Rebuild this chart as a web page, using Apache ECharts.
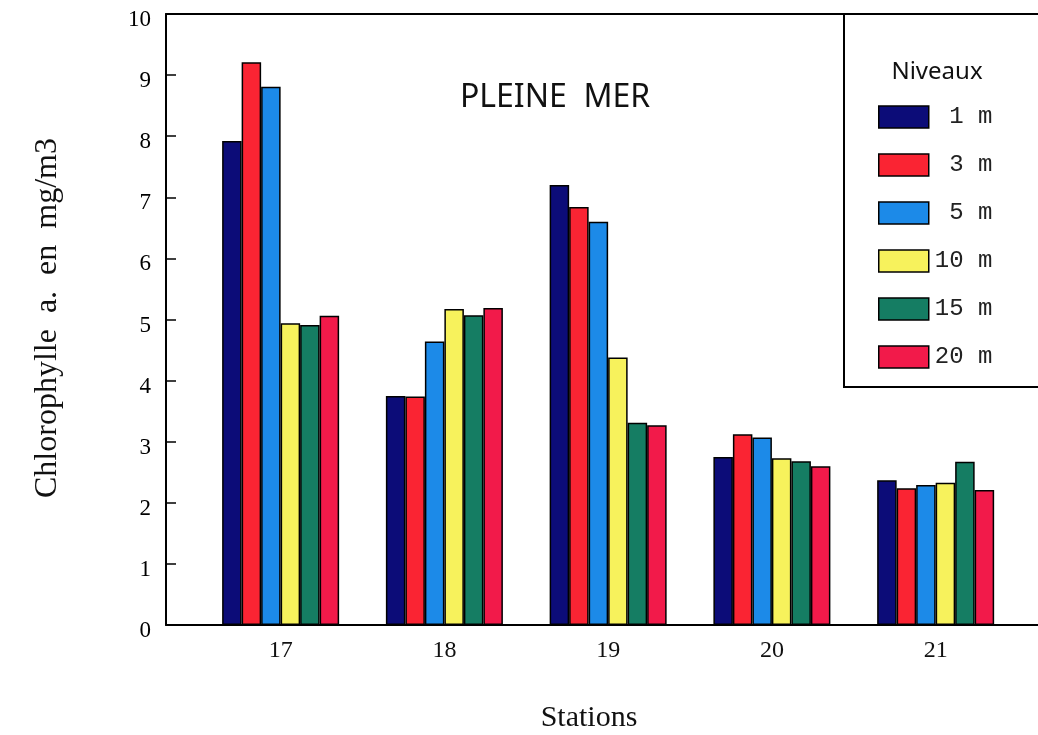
<!DOCTYPE html>
<html>
<head>
<meta charset="utf-8">
<script src="https://cdn.jsdelivr.net/npm/echarts@6/dist/echarts.min.js"></script>
<style>html,body{margin:0;padding:0;background:#fff;}#c{width:1038px;height:735px;}</style>
</head>
<body>
<div id="c"></div>
<script>
const stations = [17, 18, 19, 20, 21];
const levels = [' 1 m', ' 3 m', ' 5 m', '10 m', '15 m', '20 m'];
const colors = ['#0c0c78', '#fa2433', '#1c8ae8', '#f7f25c', '#157d63', '#f21a4a'];
const v1m  = [7.92, 3.75, 7.20, 2.75, 2.37];
const v3m  = [9.21, 3.74, 6.84, 3.12, 2.24];
const v5m  = [8.81, 4.64, 6.60, 3.07, 2.29];
const v10m = [4.94, 5.17, 4.38, 2.73, 2.33];
const v15m = [4.91, 5.07, 3.31, 2.68, 2.67];
const v20m = [5.06, 5.19, 3.27, 2.60, 2.21];
const yTicks = [0, 1, 2, 3, 4, 5, 6, 7, 8, 9, 10];
const allValues = [v1m, v3m, v5m, v10m, v15m, v20m];

const chart = echarts.init(document.getElementById('c'), null, {renderer: 'canvas'});
const series = levels.map((name, i) => ({
  name: name,
  type: 'bar',
  barWidth: 19.5,
  barGap: '0%',
  data: stations.map((s, k) => [s, allValues[i][k]]),
  itemStyle: {color: colors[i], borderColor: '#000', borderWidth: 1.5},
  emphasis: {disabled: true}
}));

chart.setOption({
  animation: false,
  backgroundColor: '#fff',
  grid: {left: 166, top: 14, right: 0, bottom: 110},
  xAxis: [{
    type: 'value', min: 16.3, max: 21.625,
    axisLine: {show: true, lineStyle: {color: '#000', width: 2}},
    axisTick: {show: false},
    splitLine: {show: false},
    axisLabel: {customValues: stations, margin: 14, color: '#111', fontFamily: 'Liberation Serif', fontSize: 24}
  }, {
    type: 'value', position: 'top', min: 16.3, max: 21.625,
    axisLine: {show: true, lineStyle: {color: '#000', width: 2}},
    axisTick: {show: false}, axisLabel: {show: false}, splitLine: {show: false}
  }],
  yAxis: {
    type: 'value', min: 0, max: 10, interval: 1,
    axisLine: {show: true, lineStyle: {color: '#000', width: 2}},
    axisTick: {show: true, inside: true, length: 10, lineStyle: {color: '#000', width: 1.5}},
    splitLine: {show: false},
    axisLabel: {margin: 15, color: '#000', fontFamily: 'Liberation Serif', fontSize: 23,
      verticalAlign: 'top', lineHeight: 12, customValues: yTicks}
  },
  legend: {
    orient: 'vertical', left: 873, top: 100, itemWidth: 50, itemHeight: 22, itemGap: 24,
    icon: 'rect', selectedMode: false,
    itemStyle: {borderColor: '#000', borderWidth: 1.5},
    textStyle: {fontFamily: 'Liberation Mono', fontSize: 24, color: '#222', padding: [0, 0, 0, 1]},
    data: levels
  },
  graphic: [
    {type: 'rect', z: 1, shape: {x: 844, y: 14, width: 260, height: 373}, style: {fill: '#fff', stroke: '#000', lineWidth: 2}},
    {type: 'text', z: 5, x: 937, y: 72, style: {text: 'Niveaux', font: '24px "Noto Sans"', fill: '#111', align: 'center', verticalAlign: 'middle'}},
    {type: 'text', z: 5, x: 555, y: 98, style: {text: 'PLEINE  MER', font: '32px "Noto Sans"', fill: '#111', align: 'center', verticalAlign: 'middle'}},
    {type: 'text', z: 5, x: 589, y: 718, style: {text: 'Stations', font: '30px "Liberation Serif"', fill: '#111', align: 'center', verticalAlign: 'middle'}},
    {type: 'text', z: 5, x: 48, y: 318, rotation: Math.PI / 2, style: {text: 'Chlorophylle  a.  en  mg/m3', font: '32px "Liberation Serif"', fill: '#111', align: 'center', verticalAlign: 'middle'}}
  ],
  series: series
});
</script>
</body>
</html>
